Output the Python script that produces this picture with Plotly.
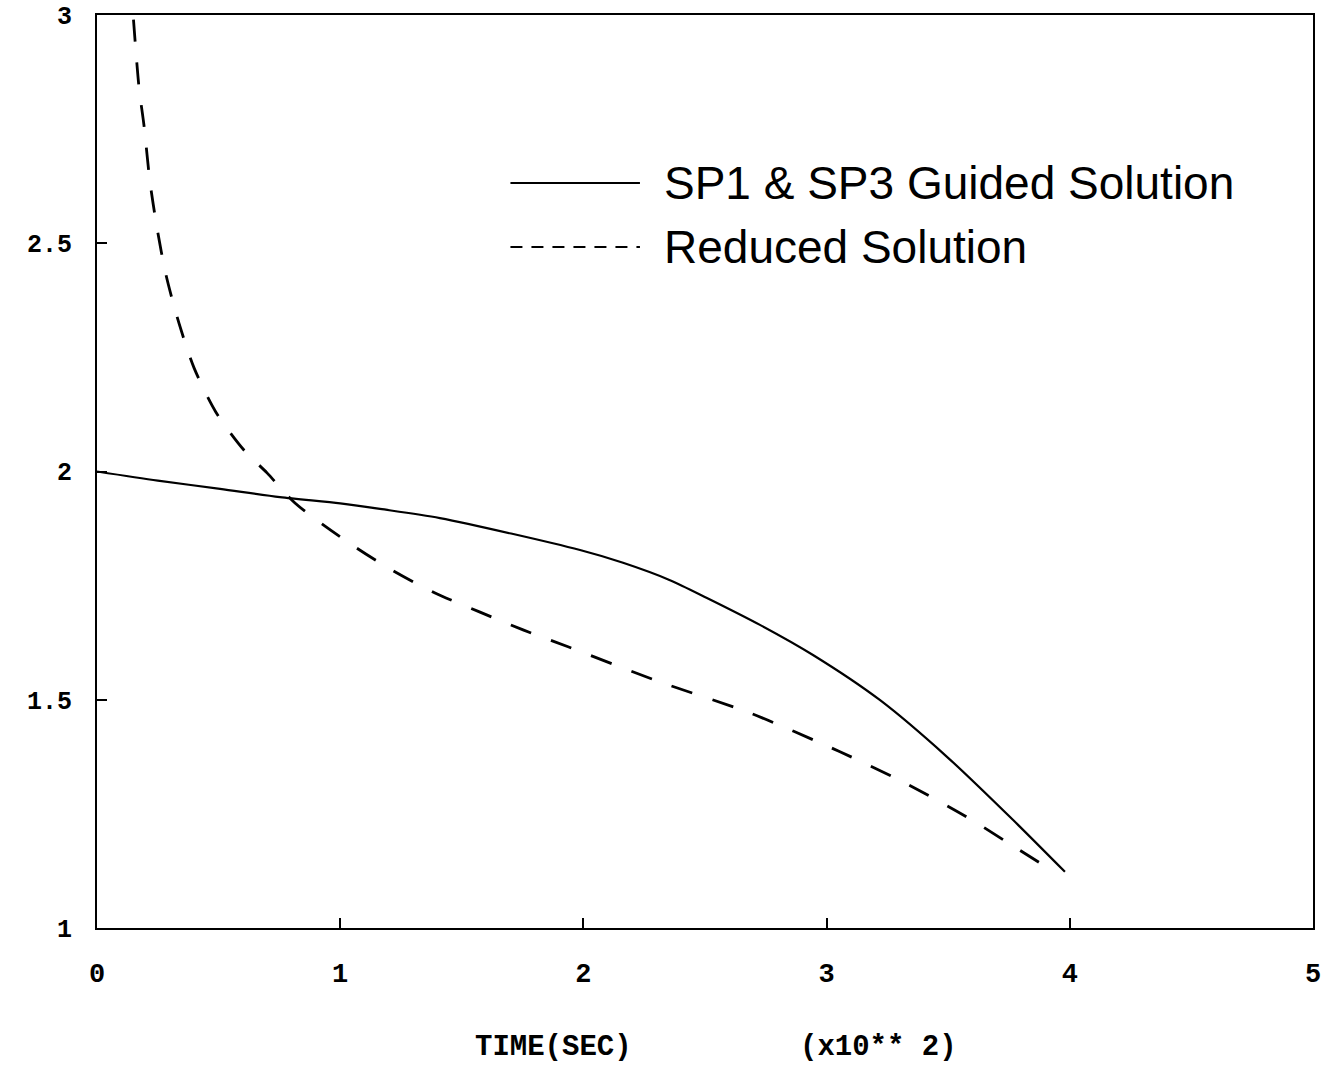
import plotly.graph_objects as go

# Data (time in units of 10^2 s)
guided_t = [0.0, 0.25, 0.506, 0.752, 1.0, 1.164, 1.41, 1.986, 2.163, 2.356, 2.508, 2.726, 2.944,
            3.22, 3.495, 3.766, 3.98]
guided_y = [2.0, 1.98, 1.962, 1.944, 1.93, 1.918, 1.898, 1.828, 1.80, 1.762, 1.723, 1.664, 1.598,
            1.499, 1.375, 1.237, 1.123]

reduced_t = [0.15, 0.173, 0.193, 0.218, 0.247, 0.284, 0.337, 0.399, 0.489, 0.604, 0.699, 0.814,
             1.049, 1.213, 1.39, 1.575, 1.752, 1.937, 2.315, 2.685, 3.055, 3.314, 3.577, 3.742, 3.92]
reduced_y = [2.99, 2.84, 2.759, 2.634, 2.533, 2.43, 2.325, 2.227, 2.13, 2.047, 1.997, 1.931,
             1.839, 1.784, 1.734, 1.692, 1.653, 1.616, 1.539, 1.471, 1.386, 1.32, 1.243, 1.188, 1.128]

x_ticks = [0, 1, 2, 3, 4, 5]
y_ticks = [1, 1.5, 2, 2.5, 3]
y_tick_text = ["1", "1.5", "2", "2.5", "3"]

legend_names = ["SP1 & SP3 Guided Solution", "Reduced Solution"]

mono = "Liberation Mono, Courier New, monospace"
sans = "Liberation Sans, Arial, sans-serif"

fig = go.Figure()
fig.add_trace(go.Scatter(x=guided_t, y=guided_y, mode="lines", name=legend_names[0],
                         line=dict(color="black", width=2.2, shape="spline", smoothing=0.8),
                         showlegend=False))
fig.add_trace(go.Scatter(x=reduced_t, y=reduced_y, mode="lines", name=legend_names[1],
                         line=dict(color="black", width=2.8, dash="22px,21px", shape="spline",
                                   smoothing=0.8),
                         showlegend=False))

# Manual legend
fig.add_shape(type="line", xref="x domain", yref="y domain", x0=0.340, x1=0.4465, y0=0.816, y1=0.816,
              line=dict(color="black", width=2))
fig.add_shape(type="line", xref="x domain", yref="y domain", x0=0.340, x1=0.4465, y0=0.746, y1=0.746,
              line=dict(color="black", width=2, dash="12px,9px"))
fig.add_annotation(xref="x domain", yref="y domain", x=0.465, y=0.816, text=legend_names[0],
                   showarrow=False, xanchor="left", yanchor="middle",
                   font=dict(family=sans, size=46, color="black"))
fig.add_annotation(xref="x domain", yref="y domain", x=0.465, y=0.746, text=legend_names[1],
                   showarrow=False, xanchor="left", yanchor="middle",
                   font=dict(family=sans, size=46, color="black"))

# X axis title (two parts)
title_y = -(1047 - 928) / 913
fig.add_annotation(xref="paper", yref="paper", x=(553 - 97) / 1216, y=title_y, text="TIME(SEC)",
                   showarrow=False, xanchor="center", yanchor="middle",
                   font=dict(family=mono, size=29, color="black", weight="bold"))
fig.add_annotation(xref="paper", yref="paper", x=(878 - 97) / 1216, y=title_y, text="(x10** 2)",
                   showarrow=False, xanchor="center", yanchor="middle",
                   font=dict(family=mono, size=29, color="black", weight="bold"))

fig.update_xaxes(range=[0, 5], tickvals=x_ticks, ticks="inside", ticklen=10, tickwidth=2,
                 tickcolor="black", showline=True, linecolor="black", linewidth=2, mirror=True,
                 showgrid=False, zeroline=False, ticklabelstandoff=20, automargin=False,
                 tickfont=dict(family=mono, size=27, color="black", weight="bold"))
fig.update_yaxes(range=[1, 3], tickvals=y_ticks, ticktext=y_tick_text, ticks="inside", ticklen=10,
                 tickwidth=2, tickcolor="black", showline=True, linecolor="black", linewidth=2,
                 mirror=True, showgrid=False, zeroline=False, ticklabelstandoff=18, automargin=False,
                 tickfont=dict(family=mono, size=25, color="black", weight="bold"))

fig.update_layout(width=1325, height=1066, margin=dict(l=97, r=12, t=15, b=138),
                  plot_bgcolor="white", paper_bgcolor="white", showlegend=False)

fig.write_html("out.html")
